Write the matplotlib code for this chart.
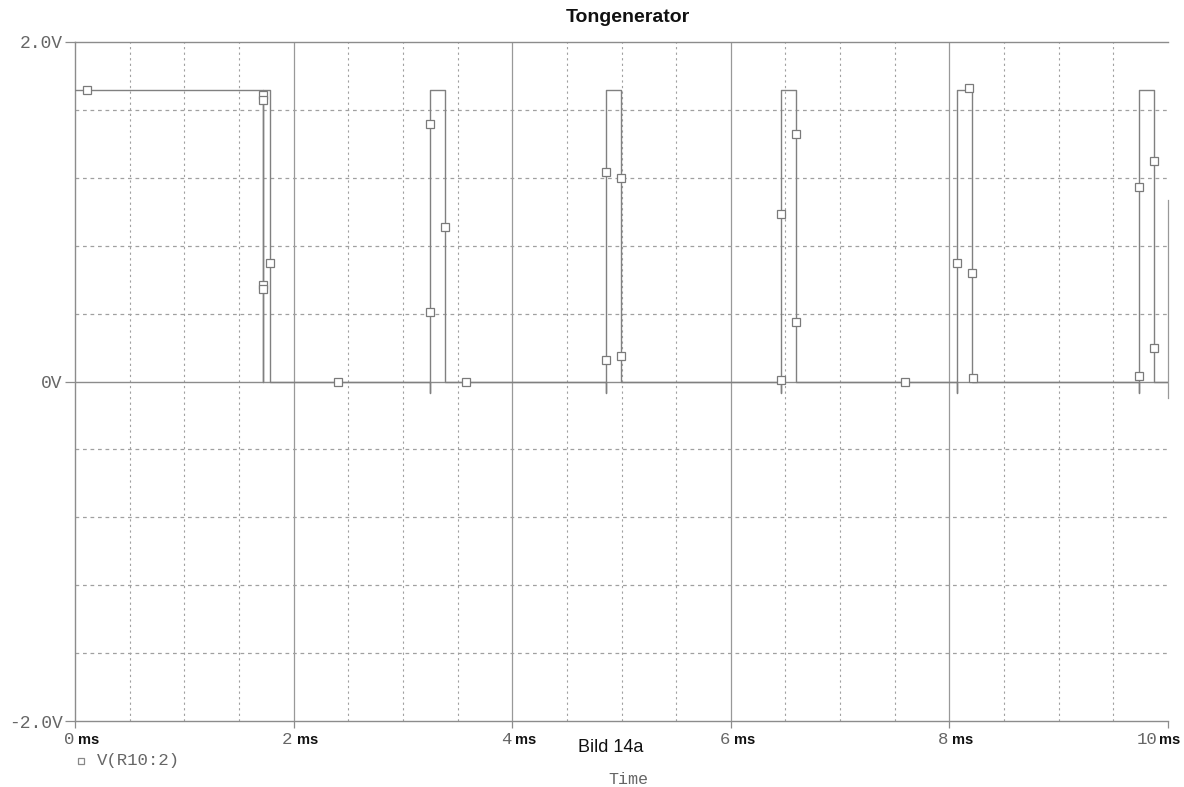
import matplotlib
matplotlib.use("Agg")
import matplotlib.pyplot as plt
from matplotlib.lines import Line2D
import matplotlib.transforms as mtransforms

# ---- data (time in ms, voltage in V) ----
trace_t = [0.0, 1.72, 1.72, 1.72, 1.785, 1.785,
           3.248, 3.248, 3.248, 3.385, 3.385,
           4.855, 4.855, 4.855, 4.995, 4.995,
           6.455, 6.455, 6.455, 6.595, 6.595,
           8.065, 8.065, 8.065, 8.205, 8.205,
           9.735, 9.735, 9.735, 9.87, 9.87, 10.0]
trace_v = [1.72, 1.72, 0.0, 1.72, 1.72, 0.0,
           0.0, -0.065, 1.72, 1.72, 0.0,
           0.0, -0.065, 1.72, 1.72, 0.0,
           0.0, -0.065, 1.72, 1.72, 0.0,
           0.0, -0.065, 1.72, 1.72, 0.0,
           0.0, -0.065, 1.72, 1.72, 0.0, 0.0]

marker_t = [0.11, 1.72, 1.72, 1.72, 1.72, 1.785, 2.41,
            3.248, 3.385, 3.248, 3.577,
            4.855, 4.995, 4.855, 4.995,
            6.455, 6.595, 6.595, 6.455, 7.59,
            8.065, 8.18, 8.205, 8.22,
            9.735, 9.87, 9.87, 9.735]
marker_v = [1.72, 1.69, 1.66, 0.566, 0.543, 0.70, 0.0,
            1.516, 0.909, 0.407, 0.0,
            1.233, 1.198, 0.124, 0.153,
            0.985, 1.457, 0.348, 0.006, 0.0,
            0.696, 1.73, 0.637, 0.018,
            1.145, 1.30, 0.20, 0.035]

x_ticks = [0, 2, 4, 6, 8, 10]
x_tick_numbers = ["0", "2", "4", "6", "8", "10"]
y_ticks = [-2.0, 0.0, 2.0]
y_tick_labels = ["-2.0V", "0V", "2.0V"]
x_minor_grid = [0.5, 1.0, 1.5, 2.5, 3.0, 3.5, 4.5, 5.0, 5.5, 6.5, 7.0, 7.5, 8.5, 9.0, 9.5]
x_major_grid = [2, 4, 6, 8]
y_minor_grid = [-1.6, -1.2, -0.8, -0.4, 0.4, 0.8, 1.2, 1.6]
right_fragment_v = [-0.1, 1.07]   # partial right border line visible in the scan

title = "Tongenerator"
legend_label = "V(R10:2)"
x_label = "Time"
caption = "Bild 14a"

# ---- figure ----
fig = plt.figure(figsize=(11.84, 7.87), dpi=100)
ax = fig.add_axes([75/1184, 1 - 721/787, (1168-75)/1184, (721-42)/787])
ax.set_xlim(0, 10)
ax.set_ylim(-2.0, 2.0)

grid_c = "#a0a0a0"
line_c = "#808080"
text_c = "#666666"

for x in x_minor_grid:
    ax.axvline(x, color=grid_c, lw=0.8, ls=(0, (2, 3)), zorder=1)
for x in x_major_grid:
    ax.axvline(x, color="#999999", lw=0.9, zorder=1)
for y in y_minor_grid:
    ax.axhline(y, color=grid_c, lw=0.9, ls=(0, (3, 3)), zorder=1)
ax.axhline(0.0, color="#8c8c8c", lw=1.0, zorder=1)

ax.axvline(10, ymin=(right_fragment_v[0] + 2) / 4, ymax=(right_fragment_v[1] + 2) / 4,
           color="#999999", lw=0.9, zorder=1, clip_on=False)

ax.plot(trace_t, trace_v, color=line_c, lw=1.0, zorder=3)
ax.plot(marker_t, marker_v, ls="none", marker="s", ms=6, mfc="white",
        mec="#7a7a7a", mew=0.9, zorder=4)

for side in ["left", "bottom", "top"]:
    ax.spines[side].set_color("#8c8c8c")
    ax.spines[side].set_linewidth(1.0)
ax.spines["right"].set_visible(False)

ax.set_yticks(y_ticks)
ax.set_yticklabels(y_tick_labels, family="Liberation Mono", fontsize=13, color=text_c)
ax.set_xticks(x_ticks)
ax.set_xticklabels([])
ax.tick_params(axis="y", direction="out", length=7, width=0.9, color="#8c8c8c", pad=2)
ax.tick_params(axis="x", direction="out", length=5, width=0.9, color="#8c8c8c")

# x tick labels: mono number + bold "ms"
for xv, num in zip(x_ticks, x_tick_numbers):
    dx_num = -1 if num != "10" else -11
    dx_ms = 3 if num != "10" else -9
    tr_num = mtransforms.offset_copy(ax.get_xaxis_transform(), fig=fig, x=dx_num, y=0, units="dots")
    tr_ms = mtransforms.offset_copy(ax.get_xaxis_transform(), fig=fig, x=dx_ms, y=0, units="dots")
    ax.text(xv, -0.027, num, transform=tr_num, ha="right", va="center",
            family="Liberation Mono", fontsize=12.5, color=text_c)
    ax.text(xv, -0.028, "ms", transform=tr_ms, ha="left", va="center",
            family="Liberation Sans", fontweight="bold", fontsize=10.5, color="#111111")

fig.text(628/1184, 1 - 18/787, title, ha="center", va="center",
         family="Liberation Sans", fontweight="bold", fontsize=14, color="#111111")
fig.text(611/1184, 1 - 748/787, caption, ha="center", va="center",
         family="Liberation Sans", fontsize=13, color="#111111")
fig.text(628/1184, 1 - 779/787, x_label, ha="center", va="center",
         family="Liberation Mono", fontsize=12, color=text_c)

fig.add_artist(Line2D([81/1184], [1 - 761/787], transform=fig.transFigure, marker="s",
                      ms=5, mfc="white", mec="#888888", mew=0.9, ls="none"))
fig.text(97/1184, 1 - 761/787, legend_label, ha="left", va="center",
         family="Liberation Mono", fontsize=12.5, color=text_c)

fig.savefig("out.png", dpi=100)
